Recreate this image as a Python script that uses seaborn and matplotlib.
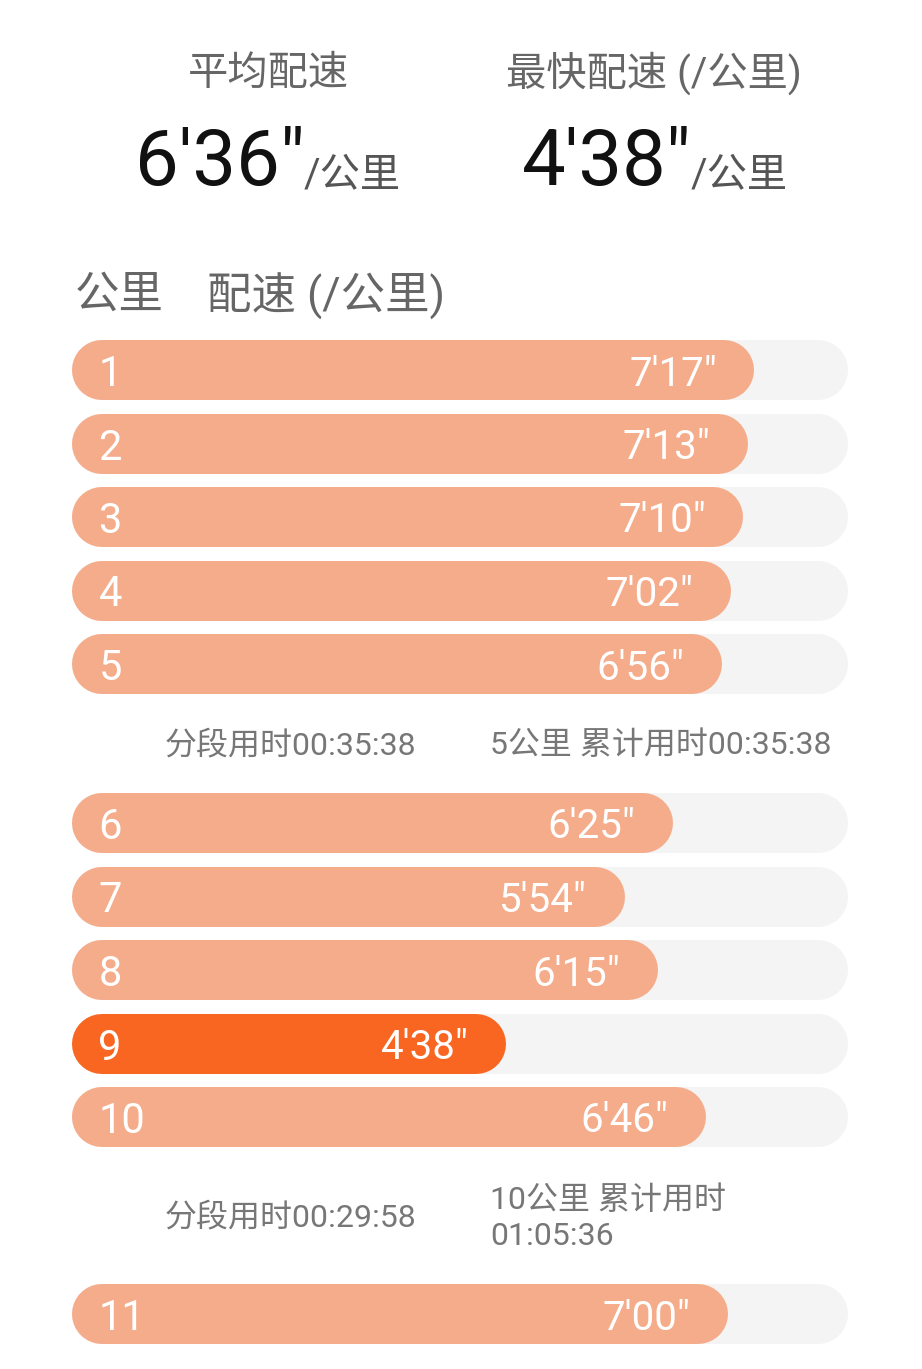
import matplotlib
matplotlib.use("Agg")
import matplotlib.pyplot as plt
import seaborn as sns
import pandas as pd

# data
km = ["1", "2", "3", "4", "5", "6", "7", "8", "9", "10", "11"]
pace_sec = [437, 433, 430, 422, 416, 385, 354, 375, 278, 406, 420]
split_times = ["00:35:38", "00:29:58"]
total_km = ["5", "10"]
total_times = ["00:35:38", "01:05:36"]
avg_pace = "6'36\""
best_pace = "4'38\""

W, H = 922, 1369
TRACK_MAX = 497          # seconds that fill the grey track
ROW = 73.5               # px between bar centres
BAR = 60                 # px bar thickness
LEFT, RIGHT = 72, 848    # px track extent

C_BAR = "#F5AC8B"
C_BEST = "#F86622"
C_TRACK = "#F4F4F4"
C_LABEL = "#666666"
C_SPLIT = "#777777"

sns.set_theme(style="white")
plt.rcParams['font.family'] = ['Roboto', 'Noto Sans CJK SC', 'DejaVu Sans']

df = pd.DataFrame({"km": km, "pace": pace_sec})
df["label"] = [f"{s // 60}'{s % 60:02d}\"" for s in df["pace"]]
best = df["pace"].idxmin()
palette = {k: (C_BEST if i == best else C_BAR) for i, k in enumerate(df["km"])}

fig = plt.figure(figsize=(W / 100, H / 100), dpi=100)
fig.patch.set_facecolor("white")


def px(x, y):
    return x / W, 1 - y / H


def round_bars(ax):
    # swap seaborn's rectangles for capsules (thick lines with round caps)
    rx = (BAR / 2) * TRACK_MAX / (RIGHT - LEFT)
    for p in list(ax.patches):
        x, y, w, h = p.get_x(), p.get_y(), p.get_width(), p.get_height()
        yc = y + h / 2
        ax.plot([x + rx, x + w - rx], [yc, yc], color=p.get_facecolor(),
                lw=BAR * 72 / 100, solid_capstyle="round")
        p.remove()


# (rows with values, extra empty track rows, centre of first row in px)
segments = [(df.iloc[0:5], [], 370), (df.iloc[5:10], [], 823), (df.iloc[10:11], ["12"], 1314)]

for seg, extra, c0 in segments:
    order = list(seg["km"]) + extra
    n = len(order)
    top = c0 - ROW / 2
    ax = fig.add_axes([LEFT / W, 1 - (top + n * ROW) / H, (RIGHT - LEFT) / W, n * ROW / H])
    track = pd.DataFrame({"km": order, "pace": [TRACK_MAX] * n})
    sns.barplot(data=track, x="pace", y="km", order=order, orient="h",
                color=C_TRACK, width=BAR / ROW, saturation=1, ax=ax)
    sns.barplot(data=seg, x="pace", y="km", order=order, orient="h", hue="km",
                palette=palette, width=BAR / ROW, saturation=1, legend=False, ax=ax)
    round_bars(ax)
    ax.set_xlim(0, TRACK_MAX)
    ax.set_ylim(n - 0.5, -0.5)
    ax.axis("off")
    for i, row in enumerate(seg.itertuples()):
        ax.annotate(row.km, xy=(0, i), xytext=(19, 0), textcoords="offset points",
                    ha="left", va="center_baseline", color="white", fontsize=30)
        ax.annotate(row.label, xy=(row.pace, i), xytext=(-27, 0), textcoords="offset points",
                    ha="right", va="center_baseline", color="white", fontsize=29)

# header
fig.text(*px(268, 73), "平均配速", ha="center", va="center", fontsize=29, color=C_LABEL)
fig.text(*px(654, 73), "最快配速 (/公里)", ha="center", va="center", fontsize=29, color=C_LABEL)
fig.text(*px(135, 185), avg_pace, ha="left", va="baseline", fontsize=56, color="#111111")
fig.text(*px(304, 186), "/公里", ha="left", va="baseline", fontsize=29, color="#555555")
fig.text(*px(522, 185), best_pace, ha="left", va="baseline", fontsize=56, color="#111111")
fig.text(*px(691, 186), "/公里", ha="left", va="baseline", fontsize=29, color="#555555")
fig.text(*px(75, 296), "公里", ha="left", va="center", fontsize=32, color=C_LABEL)
fig.text(*px(207, 296), "配速 (/公里)", ha="left", va="center", fontsize=32, color=C_LABEL)

# split summaries
fig.text(*px(165, 745), f"分段用时{split_times[0]}", ha="left", va="center", fontsize=23, color=C_SPLIT)
fig.text(*px(490, 745), f"{total_km[0]}公里 累计用时{total_times[0]}", ha="left", va="center",
         fontsize=23, color=C_SPLIT)
fig.text(*px(165, 1217), f"分段用时{split_times[1]}", ha="left", va="center", fontsize=23, color=C_SPLIT)
fig.text(*px(490, 1218), f"{total_km[1]}公里 累计用时\n{total_times[1]}", ha="left", va="center",
         fontsize=23, color=C_SPLIT, linespacing=1.33)

fig.savefig("out.png", dpi=100, facecolor="white")
